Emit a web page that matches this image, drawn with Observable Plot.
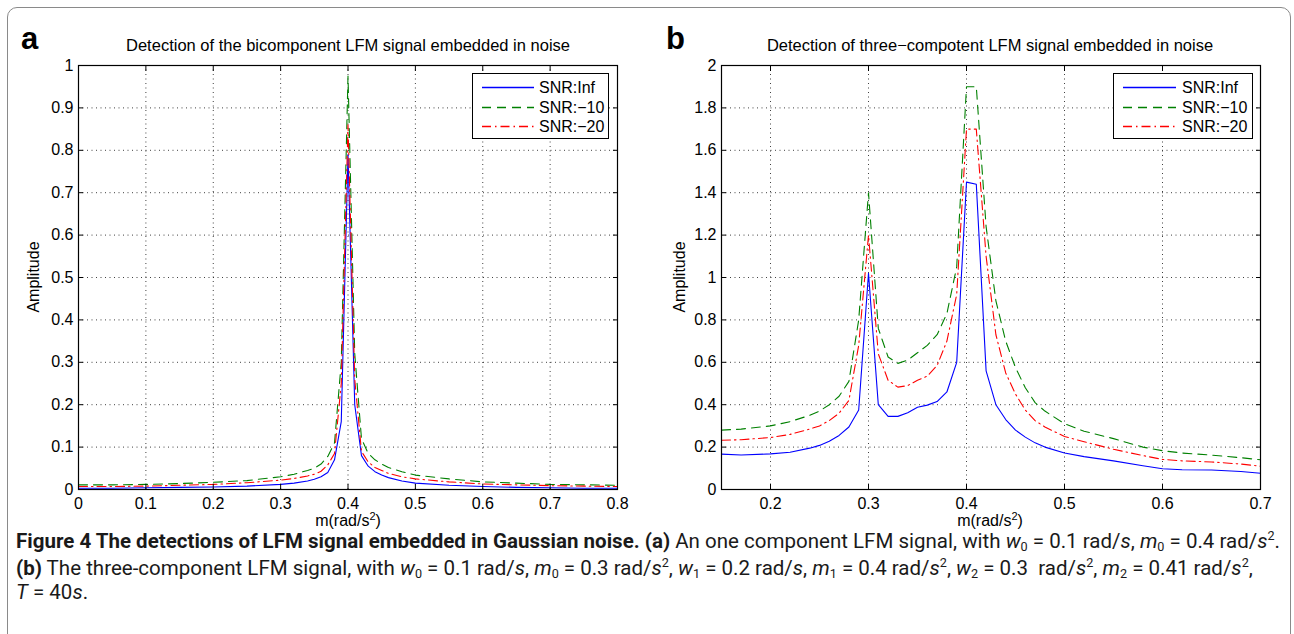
<!DOCTYPE html>
<html>
<head>
<meta charset="utf-8">
<script src="https://cdn.jsdelivr.net/npm/d3@7"></script>
<script src="https://cdn.jsdelivr.net/npm/@observablehq/plot@0.6"></script>
<style>
  html, body { margin: 0; padding: 0; background: #fff; }
  body { width: 1294px; height: 634px; position: relative; overflow: hidden; font-family: "Liberation Sans", Arial, sans-serif; }
  .abs { position: absolute; }
  .border { left: 7px; top: 7px; width: 1282px; height: 720px; border: 1.5px solid #8a8a8a; border-radius: 10px; }
  .letter { font-weight: bold; font-size: 31px; line-height: 1; }
  .title { font-size: 16.5px; white-space: nowrap; transform: translate(-50%, -50%); }
  .xlab { font-size: 16px; white-space: nowrap; transform: translate(-50%, -50%); }
  .xlab sup { font-size: 11px; vertical-align: 6px; line-height: 0; }
  .ylab { font-size: 16px; white-space: nowrap; transform: translate(-50%, -50%) rotate(-90deg); }
  .legend { background: #fff; border: 1.3px solid #000; box-sizing: border-box; }
  .caption { font-family: Roboto, "Open Sans", sans-serif; font-size: 19.5px; white-space: nowrap; color: #1a1a1a; transform-origin: 0 50%; }
  .caption sub { font-size: 12px; vertical-align: -3px; line-height: 0; }
  .caption sup { font-size: 12px; vertical-align: 8px; line-height: 0; }
</style>
</head>
<body>
<div class="abs border"></div>
<div id="panelA" class="abs" style="left:0;top:0;"></div>
<div id="panelB" class="abs" style="left:647px;top:0;"></div>

<div class="abs letter" style="left:21px;top:23px;">a</div>
<div class="abs letter" style="left:666px;top:23px;">b</div>
<div class="abs title" style="left:348px;top:45px;">Detection of the bicomponent LFM signal embedded in noise</div>
<div class="abs title" style="left:990px;top:45px;">Detection of three−compotent LFM signal embedded in noise</div>
<div class="abs xlab" style="left:348px;top:521px;">m(rad/s<sup>2</sup>)</div>
<div class="abs xlab" style="left:990px;top:521px;">m(rad/s<sup>2</sup>)</div>
<div class="abs ylab" style="left:34px;top:277px;">Amplitude</div>
<div class="abs ylab" style="left:680px;top:277px;">Amplitude</div>

<div id="legendA" class="abs legend" style="left:472px;top:73px;width:137px;height:66px;"></div>
<div id="legendB" class="abs legend" style="left:1113px;top:73px;width:140px;height:66px;"></div>

<div id="cap1" class="abs caption" style="left:16px;top:530px;"><b>Figure 4 The detections of LFM signal embedded in Gaussian noise. (a)</b> An one component LFM signal, with <i>w</i><sub>0</sub> = 0.1 rad/<i>s</i>, <i>m</i><sub>0</sub> = 0.4 rad/<i>s</i><sup>2</sup>.</div>
<div id="cap2" class="abs caption" style="left:16px;top:557px;"><b>(b)</b> The three-component LFM signal, with <i>w</i><sub>0</sub> = 0.1 rad/<i>s</i>, <i>m</i><sub>0</sub> = 0.3 rad/<i>s</i><sup>2</sup>, <i>w</i><sub>1</sub> = 0.2 rad/<i>s</i>, <i>m</i><sub>1</sub> = 0.4 rad/<i>s</i><sup>2</sup>, <i>w</i><sub>2</sub> = 0.3&nbsp; rad/<i>s</i><sup>2</sup>, <i>m</i><sub>2</sub> = 0.41 rad/<i>s</i><sup>2</sup>,</div>
<div id="cap3" class="abs caption" style="left:16px;top:581px;"><i>T</i> = 40<i>s</i>.</div>

<script>
// ---------------- DATA ----------------
const seriesNames = ["SNR:Inf", "SNR:\u221210", "SNR:\u221220"];

// Panel a
const mA = [0,0.05,0.1,0.15,0.2,0.25,0.3,0.32,0.34,0.35,0.36,0.37,0.38,0.39,0.4,0.41,0.42,0.43,0.44,0.45,0.46,0.48,0.5,0.55,0.6,0.65,0.7,0.75,0.8];
const aInf = [0.003,0.003,0.004,0.005,0.006,0.008,0.012,0.015,0.02,0.024,0.03,0.04,0.07,0.16,0.79,0.2,0.08,0.055,0.042,0.034,0.028,0.02,0.015,0.01,0.007,0.005,0.004,0.003,0.003];
const aM10 = [0.011,0.011,0.012,0.014,0.017,0.021,0.03,0.036,0.045,0.05,0.06,0.078,0.11,0.3,0.975,0.32,0.12,0.085,0.07,0.06,0.052,0.042,0.034,0.025,0.018,0.015,0.012,0.011,0.01];
const aM20 = [0.007,0.007,0.008,0.01,0.012,0.016,0.022,0.026,0.032,0.036,0.043,0.058,0.085,0.25,0.86,0.26,0.09,0.065,0.052,0.045,0.038,0.03,0.025,0.018,0.013,0.011,0.009,0.008,0.007];
const xTicksA = [0,0.1,0.2,0.3,0.4,0.5,0.6,0.7,0.8];
const xLabelsA = ["0","0.1","0.2","0.3","0.4","0.5","0.6","0.7","0.8"];
const yTicksA = [0,0.1,0.2,0.3,0.4,0.5,0.6,0.7,0.8,0.9,1];
const yLabelsA = ["0","0.1","0.2","0.3","0.4","0.5","0.6","0.7","0.8","0.9","1"];

// Panel b
const mB = [0.15,0.17,0.2,0.22,0.24,0.25,0.26,0.27,0.28,0.29,0.3,0.31,0.32,0.33,0.34,0.35,0.36,0.37,0.38,0.39,0.4,0.41,0.42,0.43,0.44,0.45,0.46,0.47,0.48,0.5,0.52,0.55,0.58,0.6,0.62,0.65,0.68,0.7];
const bInf = [0.167,0.163,0.168,0.176,0.195,0.208,0.228,0.255,0.295,0.375,1.02,0.40,0.345,0.345,0.362,0.388,0.398,0.415,0.46,0.60,1.45,1.44,0.56,0.40,0.33,0.28,0.247,0.22,0.2,0.172,0.155,0.135,0.112,0.098,0.093,0.092,0.085,0.077];
const bM10 = [0.28,0.285,0.30,0.32,0.35,0.37,0.40,0.44,0.51,0.80,1.40,0.76,0.625,0.595,0.61,0.645,0.68,0.73,0.83,1.05,1.90,1.90,1.24,0.89,0.70,0.575,0.48,0.41,0.37,0.31,0.275,0.24,0.20,0.183,0.172,0.162,0.15,0.14];
const bM20 = [0.232,0.235,0.245,0.26,0.285,0.30,0.325,0.36,0.42,0.68,1.20,0.64,0.515,0.483,0.49,0.515,0.535,0.585,0.70,0.92,1.70,1.70,1.10,0.73,0.55,0.45,0.375,0.325,0.295,0.25,0.225,0.19,0.16,0.142,0.135,0.13,0.12,0.11];
const xTicksB = [0.2,0.3,0.4,0.5,0.6,0.7];
const xLabelsB = ["0.2","0.3","0.4","0.5","0.6","0.7"];
const yTicksB = [0,0.2,0.4,0.6,0.8,1,1.2,1.4,1.6,1.8,2];
const yLabelsB = ["0","0.2","0.4","0.6","0.8","1","1.2","1.4","1.6","1.8","2"];

// ---------------- STYLES ----------------
const styles = [
  {stroke: "#0000ff", dash: null},
  {stroke: "#008000", dash: "9,6"},
  {stroke: "#ff0000", dash: "9,4,1.5,4"}
];

function rows(xs, ys, name) { return xs.map((x, i) => ({x, y: ys[i], s: name})); }

function panel(cfg) {
  const fmtX = d => cfg.xLabels[cfg.xTicks.indexOf(d)] ?? "";
  const fmtY = d => cfg.yLabels[cfg.yTicks.indexOf(d)] ?? "";
  const font = {fontSize: 16, fontFamily: "Liberation Sans, Arial, sans-serif", fill: "#000"};
  const marks = [
    Plot.gridX(cfg.xTicks, {stroke: "#000", strokeOpacity: 0.75, strokeDasharray: "1,3.5"}),
    Plot.gridY(cfg.yTicks, {stroke: "#000", strokeOpacity: 0.75, strokeDasharray: "1,3.5"}),
  ];
  cfg.series.forEach((ys, i) => {
    marks.push(Plot.line(rows(cfg.xs, ys, seriesNames[i]), {
      x: "x", y: "y", stroke: styles[i].stroke, strokeWidth: 1.1,
      strokeDasharray: styles[i].dash, curve: "linear"
    }));
  });
  marks.push(
    Plot.axisX({anchor: "bottom", ticks: cfg.xTicks, tickSize: -5, tickPadding: 13, tickFormat: fmtX, label: null, ...font, stroke: "#000"}),
    Plot.axisX({anchor: "top", ticks: cfg.xTicks, tickSize: -5, tickFormat: () => "", label: null}),
    Plot.axisY({anchor: "left", ticks: cfg.yTicks, tickSize: -5, tickPadding: 10, tickFormat: fmtY, label: null, ...font, stroke: "#000"}),
    Plot.axisY({anchor: "right", ticks: cfg.yTicks, tickSize: -5, tickFormat: () => "", label: null}),
    Plot.frame({stroke: "#000", strokeWidth: 1.2})
  );
  return Plot.plot({
    width: 647, height: 540,
    marginLeft: cfg.ml, marginRight: cfg.mr, marginTop: 65, marginBottom: 51,
    x: {domain: cfg.xDomain, label: null},
    y: {domain: cfg.yDomain, label: null},
    style: {fontFamily: "Liberation Sans, Arial, sans-serif", fontSize: "16px", background: "transparent", overflow: "visible"},
    marks
  });
}

document.getElementById("panelA").append(panel({
  xs: mA, series: [aInf, aM10, aM20], xDomain: [0, 0.8], yDomain: [0, 1],
  xTicks: xTicksA, xLabels: xLabelsA, yTicks: yTicksA, yLabels: yLabelsA, ml: 78, mr: 30
}));
document.getElementById("panelB").append(panel({
  xs: mB, series: [bInf, bM10, bM20], xDomain: [0.15, 0.7], yDomain: [0, 2],
  xTicks: xTicksB, xLabels: xLabelsB, yTicks: yTicksB, yLabels: yLabelsB, ml: 74, mr: 34
}));

// ---------------- LEGENDS ----------------
function legend(id, lineX1, lineX2, textX) {
  const el = document.getElementById(id);
  const w = el.clientWidth, h = el.clientHeight;
  const svg = d3.select(el).append("svg").attr("width", w).attr("height", h)
    .style("position", "absolute").style("left", 0).style("top", 0);
  const rowY = [13.5, 33.5, 52.5];
  seriesNames.forEach((name, i) => {
    const ln = svg.append("line").attr("x1", lineX1).attr("x2", lineX2).attr("y1", rowY[i]).attr("y2", rowY[i])
      .style("stroke", styles[i].stroke).style("stroke-width", 1.4);
    if (styles[i].dash) ln.style("stroke-dasharray", styles[i].dash);
    svg.append("text").attr("x", textX).attr("y", rowY[i]).attr("dy", "0.36em")
      .attr("font-size", 16).attr("font-family", "Liberation Sans, Arial, sans-serif").text(name);
  });
}
legend("legendA", 9, 61, 66);
legend("legendB", 9, 62, 68);

// ---------------- CAPTION WIDTH ----------------
function fitCaption() {
  const c1 = document.getElementById("cap1");
  c1.style.transform = "none";
  const w = c1.getBoundingClientRect().width;
  const s = 1264 / w;
  ["cap1", "cap2", "cap3"].forEach(id => {
    document.getElementById(id).style.transform = `scaleX(${s})`;
  });
}
fitCaption();
if (document.fonts && document.fonts.ready) document.fonts.ready.then(fitCaption);
</script>
</body>
</html>
